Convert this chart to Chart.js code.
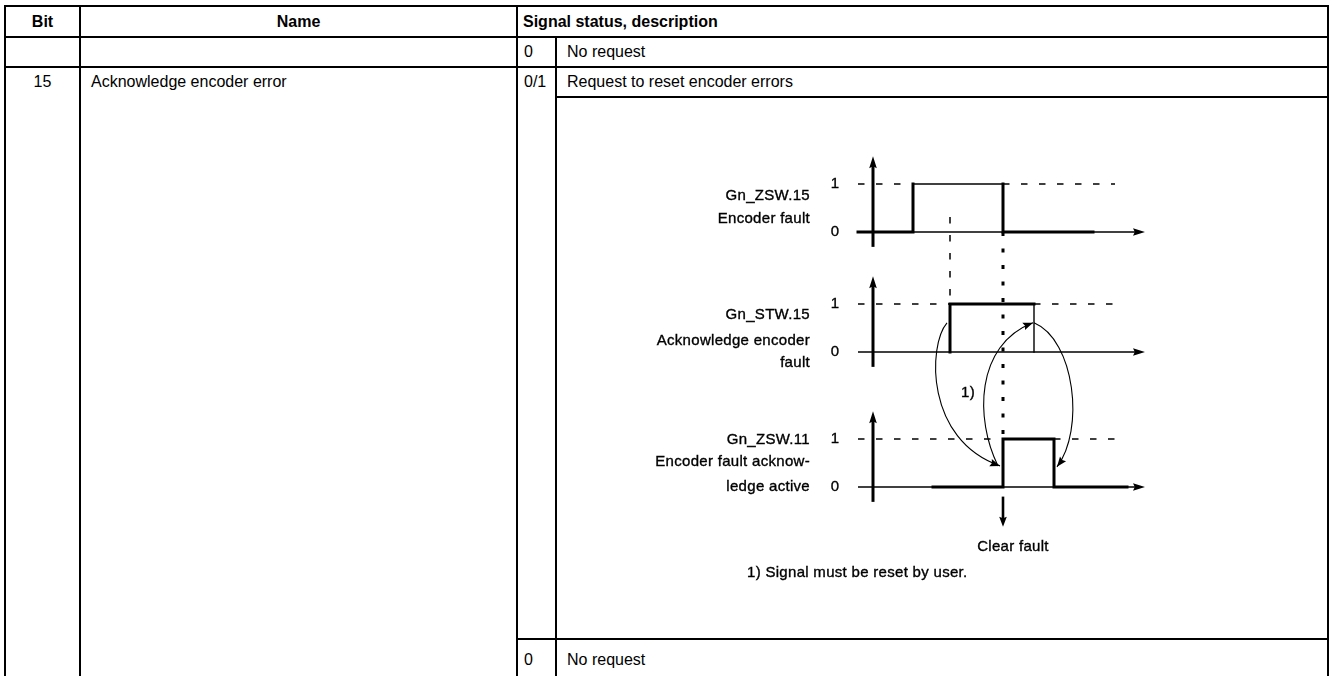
<!DOCTYPE html>
<html>
<head>
<meta charset="utf-8">
<script src="https://cdn.jsdelivr.net/npm/chart.js@4.4.1/dist/chart.umd.min.js"></script>
<style>
  html, body { margin:0; padding:0; background:#fff; }
  body { width:1333px; height:676px; overflow:hidden; position:relative;
         font-family:"Liberation Sans", Arial, Helvetica, sans-serif; color:#000; }
  .ln { position:absolute; background:#000; }
  .tx { position:absolute; font-size:16px; white-space:nowrap; }
  .b { font-weight:bold; }
  #chart { position:absolute; left:0; top:0; }
</style>
</head>
<body>
<div id="table"></div>
<canvas id="chart" width="1333" height="676"></canvas>
<script>
// ---------------- table content ----------------
const headerLabels   = ['Bit', 'Name', 'Signal status, description'];
const bitLabels      = ['', '15'];
const nameLabels     = ['', 'Acknowledge encoder error'];
const statusValues   = ['0', '0/1', '0'];
const statusTexts    = ['No request', 'Request to reset encoder errors', 'No request'];

// ---------------- timing diagram data ----------------
const signalNames        = ['Gn_ZSW.15', 'Gn_STW.15', 'Gn_ZSW.11'];
const signalDescriptions = [['Encoder fault'], ['Acknowledge encoder', 'fault'], ['Encoder fault acknow-', 'ledge active']];
const levelLabels        = ['0', '1'];
const zsw15Time  = [-1.5, 4.0, 4.0, 13.0, 13.0, 22.0];
const zsw15Level = [0, 0, 1, 1, 0, 0];
const stw15Time  = [7.7, 7.7, 16.1, 16.1];
const stw15Level = [0, 1, 1, 0];
const zsw11Time  = [6.0, 13.0, 13.0, 18.1, 18.1, 25.4];
const zsw11Level = [0, 0, 1, 1, 0, 0];
const timeAxisRange   = [-1.5, 27.2];
const referenceEnd    = 24.2;
const clearFaultLabel = 'Clear fault';
const footnoteMarker  = '1)';
const footnoteText    = '1) Signal must be reset by user.';

// ---------------- layout (not data) ----------------
const INK = '#000';
const COL_X = [5, 80, 517, 556, 1328];
const ROW_Y = [6, 37, 67, 97, 639, 680];
const LW = 2;
const PX_PER_T = 10, T0_PX = 873;      // time axis origin (pixel)
const PX_PER_V = 48, V0_PX = 487;      // one signal level in pixels
const PANEL_BASE = [(V0_PX - 232) / PX_PER_V, (V0_PX - 352) / PX_PER_V, 0];
const AXIS_TOP = 1.58, AXIS_BOTTOM = -0.31;
const LABEL_T = -6.3, LEVEL_T = -3.8;
const LABEL_OFFSETS = [[0.75, 0.27], [0.77, 0.23, -0.23], [0.98, 0.52, 0.0]];
const SIGNAL_WIDTHS = [[3, 3, 1.4, 3, 3], [3, 3, 1.4], [3, 3, 3, 3, 3]];
const CURVES = [
  [[7.4, 3.42], [5.5, 2.96], [5.2, 0.98], [12.7, 0.44]],
  [[12.5, 0.44], [10.2, 1.40], [10.2, 2.96], [16.0, 3.42]],
  [[16.1, 3.42], [20.2, 3.06], [21.2, 1.19], [18.4, 0.42]]
];
const DIAGRAM_FONT = '15px "Liberation Sans", Arial, sans-serif';

// ---------------- build the table ----------------
const tbl = document.getElementById('table');
function hline(y, x1, x2) { const d = document.createElement('div'); d.className = 'ln';
  Object.assign(d.style, {left: (x1 - LW/2) + 'px', top: (y - LW/2) + 'px', width: (x2 - x1 + LW) + 'px', height: LW + 'px'}); tbl.appendChild(d); }
function vline(x, y1, y2) { const d = document.createElement('div'); d.className = 'ln';
  Object.assign(d.style, {left: (x - LW/2) + 'px', top: (y1 - LW/2) + 'px', width: LW + 'px', height: (y2 - y1 + LW) + 'px'}); tbl.appendChild(d); }
function text(str, x1, x2, y1, y2, align, bold, pad) {
  const d = document.createElement('div'); d.className = 'tx' + (bold ? ' b' : '');
  d.textContent = str;
  Object.assign(d.style, {left: x1 + 'px', width: (x2 - x1) + 'px', top: y1 + 'px', height: (y2 - y1) + 'px',
    lineHeight: (y2 - y1) + 'px', textAlign: align, boxSizing: 'border-box', paddingLeft: (pad || 0) + 'px'});
  tbl.appendChild(d);
}
hline(ROW_Y[0], COL_X[0], COL_X[4]);
hline(ROW_Y[1], COL_X[0], COL_X[4]);
hline(ROW_Y[2], COL_X[0], COL_X[4]);
hline(ROW_Y[3], COL_X[3], COL_X[4]);
hline(ROW_Y[4], COL_X[2], COL_X[4]);
[0, 1, 2, 4].forEach(i => vline(COL_X[i], ROW_Y[0], ROW_Y[5]));
vline(COL_X[3], ROW_Y[1], ROW_Y[5]);

text(headerLabels[0], COL_X[0], COL_X[1], ROW_Y[0], ROW_Y[1], 'center', true);
text(headerLabels[1], COL_X[1], COL_X[2], ROW_Y[0], ROW_Y[1], 'center', true);
text(headerLabels[2], COL_X[2], COL_X[4], ROW_Y[0], ROW_Y[1], 'left', true, 6);
const rowBands = [[ROW_Y[1], ROW_Y[2]], [ROW_Y[2], ROW_Y[3]], [ROW_Y[4], ROW_Y[5]]];
bitLabels.forEach((s, i) => text(s, COL_X[0], COL_X[1], rowBands[i][0], rowBands[i][1], 'center', false));
nameLabels.forEach((s, i) => text(s, COL_X[1], COL_X[2], rowBands[i][0], rowBands[i][1], 'left', false, 11));
statusValues.forEach((s, i) => text(s, COL_X[2], COL_X[3], rowBands[i][0], rowBands[i][1], 'left', false, 7));
statusTexts.forEach((s, i) => text(s, COL_X[3], COL_X[4], rowBands[i][0], rowBands[i][1], 'left', false, 11));

// ---------------- chart ----------------
function signalData(times, levels, panel) {
  return times.map((t, i) => ({x: t, y: PANEL_BASE[panel] + levels[i]}));
}
function referenceData(times, levels, panel) {
  const rise = times[levels.indexOf(1)];
  const fall = times[levels.lastIndexOf(1)];
  const b = PANEL_BASE[panel] + 1;
  return [{x: timeAxisRange[0], y: b}, {x: rise, y: b}, {x: rise, y: null}, {x: fall, y: b}, {x: referenceEnd, y: b}];
}
function signalDataset(times, levels, panel) {
  const w = SIGNAL_WIDTHS[panel];
  return { data: signalData(times, levels, panel), borderColor: INK, borderWidth: 3,
    borderCapStyle: 'square', borderJoinStyle: 'miter', pointRadius: 0,
    segment: { borderWidth: c => w[c.p0DataIndex] } };
}
function refDataset(times, levels, panel) {
  return { data: referenceData(times, levels, panel), borderColor: INK, borderWidth: 1.3,
    borderDash: [6.5, 11.5], pointRadius: 0, spanGaps: false };
}
const stwRise = stw15Time[stw15Level.indexOf(1)];
const zswFall = zsw15Time[zsw15Level.lastIndexOf(1)];

const datasets = [
  refDataset(zsw15Time, zsw15Level, 0),
  refDataset(stw15Time, stw15Level, 1),
  refDataset(zsw11Time, zsw11Level, 2),
  { data: [{x: stwRise, y: PANEL_BASE[0] + 0.31}, {x: stwRise, y: PANEL_BASE[1] + 1}],
    borderColor: INK, borderWidth: 1.5, borderDash: [6.5, 11.5], pointRadius: 0 },
  { data: [{x: zswFall, y: PANEL_BASE[0]}, {x: zswFall, y: PANEL_BASE[2] + 1}],
    borderColor: INK, borderWidth: 3, borderDash: [4, 12.5], pointRadius: 0 },
  signalDataset(zsw15Time, zsw15Level, 0),
  signalDataset(stw15Time, stw15Level, 1),
  signalDataset(zsw11Time, zsw11Level, 2)
];

function arrowHead(ctx, x, y, ang, len, half) {
  ctx.save(); ctx.translate(x, y); ctx.rotate(ang);
  ctx.beginPath(); ctx.moveTo(0, 0); ctx.lineTo(-len, -half); ctx.lineTo(-len * 0.85, 0); ctx.lineTo(-len, half);
  ctx.closePath(); ctx.fill(); ctx.restore();
}
function inkText(ctx, s, x, y) {
  ctx.fillText(s, x, y);
  ctx.strokeText(s, x, y);
}

const timingPlugin = {
  id: 'timing',
  beforeDatasetsDraw(chart) {
    const {ctx, scales: {x, y}} = chart;
    const X = t => x.getPixelForValue(t), Y = v => y.getPixelForValue(v);
    ctx.save(); ctx.strokeStyle = INK; ctx.fillStyle = INK; ctx.lineCap = 'butt';
    PANEL_BASE.forEach(b => {
      ctx.lineWidth = 1.3;
      ctx.beginPath(); ctx.moveTo(X(timeAxisRange[0]), Y(b)); ctx.lineTo(X(timeAxisRange[1]) - 6, Y(b)); ctx.stroke();
      arrowHead(ctx, X(timeAxisRange[1]), Y(b), 0, 12, 3.8);
      ctx.lineWidth = 3;
      ctx.beginPath(); ctx.moveTo(X(0), Y(b + AXIS_BOTTOM)); ctx.lineTo(X(0), Y(b + AXIS_TOP) + 7); ctx.stroke();
      arrowHead(ctx, X(0), Y(b + AXIS_TOP), -Math.PI / 2, 12, 3.8);
    });
    ctx.restore();
  },
  afterDatasetsDraw(chart) {
    const {ctx, scales: {x, y}} = chart;
    const X = t => x.getPixelForValue(t), Y = v => y.getPixelForValue(v);
    ctx.save(); ctx.strokeStyle = INK; ctx.fillStyle = INK;
    ctx.font = DIAGRAM_FONT; ctx.textBaseline = 'middle';
    try { ctx.letterSpacing = '0.3px'; } catch (e) {}
    ctx.lineWidth = 0.35;
    PANEL_BASE.forEach((b, i) => {
      ctx.textAlign = 'center';
      inkText(ctx, levelLabels[1], X(LEVEL_T), Y(b + 1));
      inkText(ctx, levelLabels[0], X(LEVEL_T), Y(b));
      ctx.textAlign = 'right';
      const lines = [signalNames[i]].concat(signalDescriptions[i]);
      lines.forEach((s, k) => inkText(ctx, s, X(LABEL_T), Y(b + LABEL_OFFSETS[i][k])));
    });
    ctx.textAlign = 'center';
    inkText(ctx, footnoteMarker, X(9.5), Y(1.96));
    inkText(ctx, clearFaultLabel, X(14.0), Y(-1.25));
    ctx.textAlign = 'left';
    inkText(ctx, footnoteText, X(-12.6), Y(-1.79));
    // curved arrows
    ctx.lineWidth = 1.1;
    CURVES.forEach(c => {
      const p = c.map(q => [X(q[0]), Y(q[1])]);
      ctx.beginPath(); ctx.moveTo(p[0][0], p[0][1]);
      ctx.bezierCurveTo(p[1][0], p[1][1], p[2][0], p[2][1], p[3][0], p[3][1]); ctx.stroke();
      const ang = Math.atan2(p[3][1] - p[2][1], p[3][0] - p[2][0]);
      arrowHead(ctx, p[3][0], p[3][1], ang, 10, 3.8);
    });
    // clear fault arrow
    ctx.lineWidth = 2.6;
    ctx.beginPath(); ctx.moveTo(X(zswFall), Y(-0.2)); ctx.lineTo(X(zswFall), Y(-0.83) - 7); ctx.stroke();
    arrowHead(ctx, X(zswFall), Y(-0.83), Math.PI / 2, 10, 3.8);
    ctx.restore();
  }
};

new Chart(document.getElementById('chart'), {
  type: 'line',
  data: { datasets },
  options: {
    responsive: false, animation: false, events: [], devicePixelRatio: 1,
    layout: { padding: 0 },
    plugins: { legend: { display: false }, tooltip: { enabled: false } },
    scales: {
      x: { type: 'linear', display: false, min: -T0_PX / PX_PER_T, max: (1333 - T0_PX) / PX_PER_T },
      y: { type: 'linear', display: false, min: -(676 - V0_PX) / PX_PER_V, max: V0_PX / PX_PER_V }
    },
    elements: { point: { radius: 0 }, line: { tension: 0 } }
  },
  plugins: [timingPlugin]
});
</script>
</body>
</html>
